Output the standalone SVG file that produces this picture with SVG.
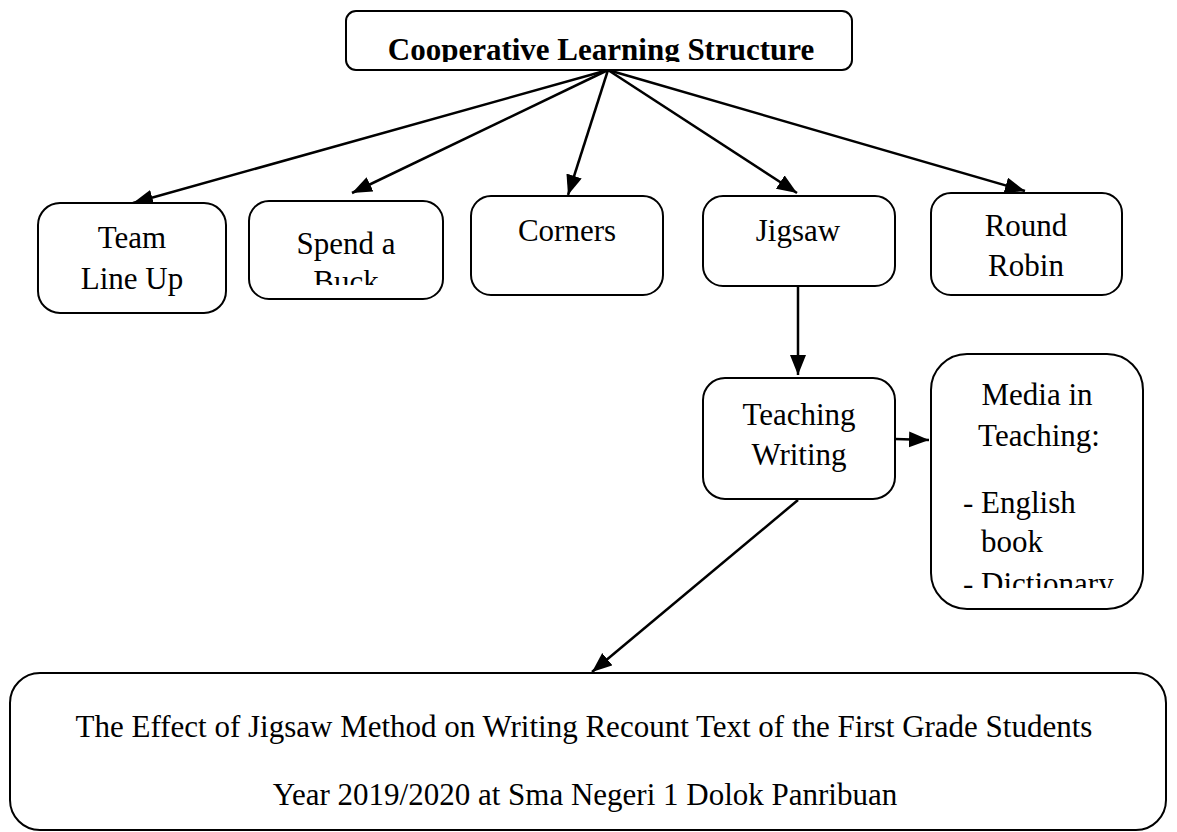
<svg xmlns="http://www.w3.org/2000/svg" width="1177" height="832" viewBox="0 0 1177 832">
<style>
.box{fill:#fff;stroke:#000;stroke-width:2}
.t{font-family:"Liberation Serif","Times New Roman",serif;font-size:31px;fill:#000}
.c{text-anchor:middle}
.b{font-weight:bold}
.conn line{stroke:#000;stroke-width:2.5;marker-end:url(#ah)}
</style>
<defs>
<marker id="ah" markerUnits="userSpaceOnUse" markerWidth="22" markerHeight="18" refX="20" refY="8" orient="auto">
<path d="M0,0 L20,8 L0,16 Z" fill="#000"/>
</marker>
<clipPath id="clipTop"><rect x="346" y="11" width="506" height="51"/></clipPath>
<clipPath id="clipSpend"><rect x="249" y="201" width="194" height="84"/></clipPath>
<clipPath id="clipMedia"><rect x="931" y="354" width="212" height="234"/></clipPath>
</defs>
<rect width="1177" height="832" fill="#fff"/>
<g class="conn">
<line x1="608" y1="70" x2="133" y2="203"/>
<line x1="608" y1="70" x2="352" y2="193"/>
<line x1="608" y1="70" x2="568" y2="195"/>
<line x1="608" y1="70" x2="797" y2="193"/>
<line x1="608" y1="70" x2="1025" y2="191"/>
<line x1="798" y1="286" x2="798" y2="375"/>
<line x1="895" y1="439" x2="929" y2="440"/>
<line x1="798" y1="500" x2="592" y2="672"/>
</g>
<g id="top">
<rect class="box" x="346" y="11" width="506" height="59" rx="10"/>
<text class="t c b" x="601" y="60" clip-path="url(#clipTop)">Cooperative Learning Structure</text>
</g>
<g id="team">
<rect class="box" x="38" y="203" width="188" height="110" rx="22"/>
<text class="t c" x="132" y="248">Team</text>
<text class="t c" x="132" y="289">Line Up</text>
</g>
<g id="spend">
<rect class="box" x="249" y="201" width="194" height="98" rx="20"/>
<g clip-path="url(#clipSpend)">
<text class="t c" x="346" y="254">Spend a</text>
<text class="t c" x="346" y="292">Buck</text>
</g>
</g>
<g id="corners">
<rect class="box" x="471" y="196" width="192" height="99" rx="20"/>
<text class="t c" x="567" y="241">Corners</text>
</g>
<g id="jigsaw">
<rect class="box" x="703" y="196" width="192" height="90" rx="20"/>
<text class="t c" x="798" y="241">Jigsaw</text>
</g>
<g id="round">
<rect class="box" x="931" y="193" width="191" height="102" rx="20"/>
<text class="t c" x="1026" y="236">Round</text>
<text class="t c" x="1026" y="276">Robin</text>
</g>
<g id="teaching">
<rect class="box" x="703" y="378" width="192" height="121" rx="22"/>
<text class="t c" x="799" y="425">Teaching</text>
<text class="t c" x="799" y="465">Writing</text>
</g>
<g id="media">
<rect class="box" x="931" y="354" width="212" height="255" rx="36"/>
<g clip-path="url(#clipMedia)">
<text class="t c" x="1037" y="405">Media in</text>
<text class="t c" x="1039" y="446">Teaching:</text>
<text class="t" x="963" y="513">- English</text>
<text class="t" x="981" y="552">book</text>
<text class="t" x="963" y="594">- Dictionary</text>
</g>
</g>
<g id="result">
<rect class="box" x="10" y="673" width="1156" height="157" rx="30"/>
<text class="t c" x="584" y="737">The Effect of Jigsaw Method on Writing Recount Text of the First Grade Students</text>
<text class="t c" x="585" y="805">Year 2019/2020 at Sma Negeri 1 Dolok Panribuan</text>
</g>
</svg>
